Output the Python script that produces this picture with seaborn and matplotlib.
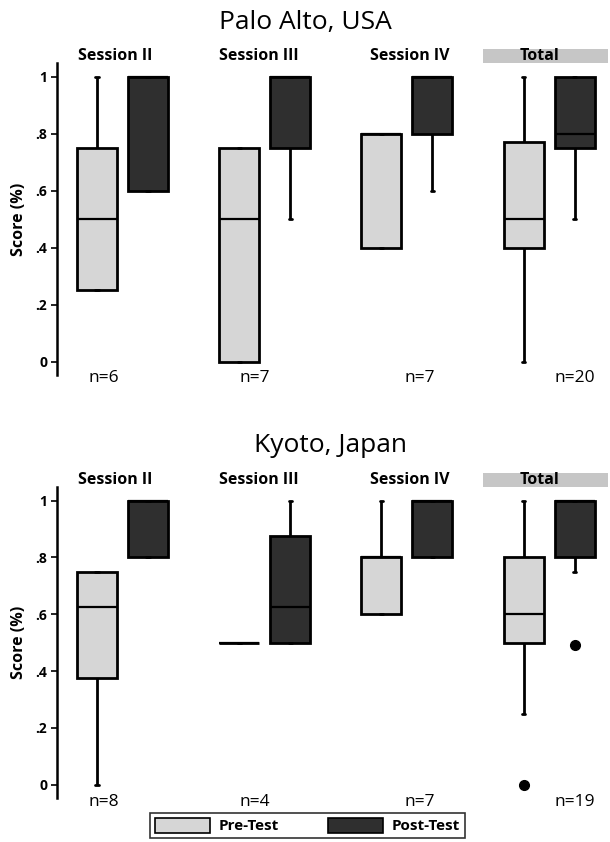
import numpy as np
import pandas as pd
import matplotlib
matplotlib.use("Agg")
import matplotlib.pyplot as plt
import seaborn as sns
from matplotlib.patches import Rectangle, Patch

# ---------------- data ----------------
sessions = ["Session II", "Session III", "Session IV", "Total"]
tests = ["Pre-Test", "Post-Test"]
sites = ["Palo Alto, USA", "Kyoto, Japan"]

# Palo Alto, USA  (scores as fraction correct)
pa_s2_pre = [0.25, 0.25, 0.25, 0.75, 0.75, 1.0]
pa_s2_post = [0.6, 0.6, 1.0, 1.0, 1.0]
pa_s3_pre = [0.0, 0.0, 0.0, 0.5, 0.75, 0.75, 0.75]
pa_s3_post = [0.5, 0.75, 0.75, 1.0, 1.0, 1.0, 1.0]
pa_s4_pre = [0.4, 0.4, 0.4, 0.8, 0.8, 0.8, 0.8]
pa_s4_post = [0.6, 0.8, 0.8, 1.0, 1.0, 1.0, 1.0]
pa_tot_pre = [0.0, 0.25, 0.25, 0.4, 0.4, 0.4, 0.4, 0.5, 0.5, 0.5,
              0.5, 0.6, 0.75, 0.75, 0.75, 0.833, 0.833, 1.0, 1.0, 1.0]
pa_tot_post = [0.5, 0.6, 0.75, 0.75, 0.75, 0.75, 0.75, 0.8, 0.8, 0.8,
               0.8, 0.8, 1.0, 1.0, 1.0, 1.0, 1.0, 1.0, 1.0, 1.0]

# Kyoto, Japan
ky_s2_pre = [0.0, 0.375, 0.375, 0.625, 0.625, 0.75, 0.75, 0.75]
ky_s2_post = [0.8, 0.8, 0.8, 1.0, 1.0, 1.0, 1.0, 1.0]
ky_s3_pre = [0.5, 0.5, 0.5, 0.5]
ky_s3_post = [0.5, 0.5, 0.625, 0.875, 1.0]
ky_s4_pre = [0.6, 0.6, 0.6, 0.8, 0.8, 0.8, 1.0]
ky_s4_post = [0.8, 0.8, 0.8, 1.0, 1.0, 1.0, 1.0]
ky_tot_pre = [0.0, 0.25, 0.375, 0.5, 0.5, 0.5, 0.5, 0.5, 0.5, 0.6,
              0.625, 0.625, 0.75, 0.8, 0.8, 0.8, 1.0, 1.0, 1.0]
ky_tot_post = [0.49, 0.75, 0.8, 0.8, 0.8, 0.8, 0.8, 0.8, 0.8, 1.0,
               1.0, 1.0, 1.0, 1.0, 1.0, 1.0, 1.0, 1.0, 1.0]

pa_n_labels = ["n=6", "n=7", "n=7", "n=20"]
ky_n_labels = ["n=8", "n=4", "n=7", "n=19"]

yticks = [0, 0.2, 0.4, 0.6, 0.8, 1.0]
yticklabels = ["0", ".2", ".4", ".6", ".8", "1"]

site_data = {
    "Palo Alto, USA": {
        ("Session II", "Pre-Test"): pa_s2_pre, ("Session II", "Post-Test"): pa_s2_post,
        ("Session III", "Pre-Test"): pa_s3_pre, ("Session III", "Post-Test"): pa_s3_post,
        ("Session IV", "Pre-Test"): pa_s4_pre, ("Session IV", "Post-Test"): pa_s4_post,
        ("Total", "Pre-Test"): pa_tot_pre, ("Total", "Post-Test"): pa_tot_post,
    },
    "Kyoto, Japan": {
        ("Session II", "Pre-Test"): ky_s2_pre, ("Session II", "Post-Test"): ky_s2_post,
        ("Session III", "Pre-Test"): ky_s3_pre, ("Session III", "Post-Test"): ky_s3_post,
        ("Session IV", "Pre-Test"): ky_s4_pre, ("Session IV", "Post-Test"): ky_s4_post,
        ("Total", "Pre-Test"): ky_tot_pre, ("Total", "Post-Test"): ky_tot_post,
    },
}
n_labels = {"Palo Alto, USA": pa_n_labels, "Kyoto, Japan": ky_n_labels}

rows = []
for site, groups in site_data.items():
    for (sess, test), vals in groups.items():
        for v in vals:
            rows.append({"site": site, "session": sess, "test": test, "score": v})
df = pd.DataFrame(rows)

# ---------------- style ----------------
sns.set_style("ticks")
plt.rcParams["font.family"] = ["Open Sans", "DejaVu Sans"]
plt.rcParams["text.color"] = "black"
plt.rcParams["axes.labelcolor"] = "black"
plt.rcParams["ytick.color"] = "black"
plt.rcParams["xtick.color"] = "black"

PRE_COLOR = "#d6d6d6"
POST_COLOR = "#2f2f2f"
palette = {"Pre-Test": PRE_COLOR, "Post-Test": POST_COLOR}

W, H = 610, 842
fig = plt.figure(figsize=(W / 100, H / 100), dpi=100)


def rect(left, top, right, bottom):
    return [left / W, 1 - bottom / H, (right - left) / W, (bottom - top) / H]


def fx(px):
    return px / W


def fy(py):
    return 1 - py / H


# category centre at px 122.75, spacing 142.1 px
def px2data(px):
    return (px - 122.75) / 142.1


layouts = {
    "Palo Alto, USA": dict(box=(57, 63, 610, 375), title=(305, 22), header_y=56,
                           n_y=378),
    "Kyoto, Japan": dict(box=(57, 487, 610, 798), title=(331, 445), header_y=480,
                         n_y=802),
}
header_px = [115, 259, 410, 539]
n_px = [104, 255, 420, 575]

for site in sites:
    lay = layouts[site]
    ax = fig.add_axes(rect(*lay["box"]))
    sub = df[df["site"] == site]
    sns.boxplot(
        data=sub, x="session", y="score", hue="test",
        order=sessions, hue_order=tests, palette=palette, saturation=1,
        width=0.718, gap=0.215, linecolor="black", linewidth=2.0,
        whis=1.5, fliersize=7,
        flierprops=dict(marker="o", markerfacecolor="black",
                        markeredgecolor="black"),
        medianprops=dict(linewidth=1.6),
        whiskerprops=dict(linewidth=2.0),
        capprops=dict(linewidth=2.0),
        capwidths=0.025,
        legend=False, ax=ax,
    )
    ax.set_xlim(px2data(57), px2data(610))
    ax.set_ylim(-0.047, 1.048)
    ax.set_xticks([])
    ax.set_xlabel("")
    ax.set_yticks(yticks)
    ax.set_yticklabels(yticklabels, fontsize=10, fontweight="bold")
    ax.tick_params(axis="y", length=4, width=1.2, pad=3, color="black")
    ax.set_ylabel("Score (%)", fontsize=11.5, fontweight="bold", labelpad=6)
    for s in ["top", "right", "bottom"]:
        ax.spines[s].set_visible(False)
    ax.spines["left"].set_linewidth(1.8)
    ax.spines["left"].set_color("black")
    ax.patch.set_alpha(0)

    # title
    fig.text(fx(lay["title"][0]), fy(lay["title"][1]), site, ha="center",
             va="center", fontsize=19)

    # session headers
    top_px = lay["box"][1]
    for sess, hx in zip(sessions, header_px):
        if sess == "Total":
            fig.patches.append(Rectangle((fx(483), fy(top_px)), fx(608) - fx(483),
                                         fy(top_px - 14) - fy(top_px),
                                         transform=fig.transFigure,
                                         facecolor="#c6c6c6", edgecolor="none",
                                         zorder=0))
        fig.text(fx(hx), fy(lay["header_y"]), sess, ha="center", va="center",
                 fontsize=11.5, fontweight="bold")

    # n labels
    for lab, nx in zip(n_labels[site], n_px):
        fig.text(fx(nx), fy(lay["n_y"]), lab, ha="center", va="center",
                 fontsize=12.5)

handles = [Patch(facecolor=PRE_COLOR, edgecolor="black", linewidth=1.2, label="Pre-Test"),
           Patch(facecolor=POST_COLOR, edgecolor="black", linewidth=1.2, label="Post-Test")]
leg = fig.legend(handles=handles, loc="center",
                 bbox_to_anchor=(fx(307.5), fy(825.5)), ncol=2,
                 frameon=True, fancybox=False, edgecolor="black",
                 handlelength=3.6, handleheight=1.2, columnspacing=3.2,
                 borderpad=0.3, handletextpad=0.6,
                 prop=dict(size=11, weight="bold"))
leg.get_frame().set_linewidth(1.2)

fig.savefig("out.png", dpi=100)
